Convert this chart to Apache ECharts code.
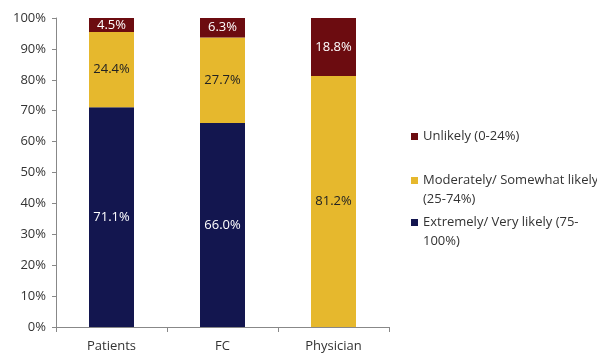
<!DOCTYPE html>
<html>
<head>
<meta charset="utf-8">
<script src="https://cdn.jsdelivr.net/npm/echarts@6/dist/echarts.min.js"></script>
<style>
  html, body { margin: 0; padding: 0; background: #fff; }
  #chart { width: 597px; height: 354px; }
</style>
</head>
<body>
<div id="chart"></div>
<script>
// categories and series (percent)
const groups = ["Patients", "FC", "Physician"];
const extremely = [71.1, 66.0, 0];
const moderately = [24.4, 27.7, 81.2];
const unlikely = [4.5, 6.3, 18.8];
const yTicks = [0, 10, 20, 30, 40, 50, 60, 70, 80, 90, 100];

const names = [
  "Extremely/ Very likely (75-\n100%)",
  "Moderately/ Somewhat likely\n(25-74%)",
  "Unlikely (0-24%)"
];

const font = "Open Sans";
const lineH = 19;

function makeSeries(name, data, color, labelColor) {
  return {
    name: name,
    type: "bar",
    stack: "total",
    barWidth: 45,
    data: data,
    itemStyle: { color: color },
    label: {
      show: true,
      position: "inside",
      color: labelColor,
      fontFamily: font,
      fontSize: 13,
      formatter: function (p) {
        return p.value > 0 ? p.value.toFixed(1) + "%" : "";
      }
    }
  };
}

// one legend box per item; two-line items get a tall icon box with the
// square at its top so it lines up with the first line of text
function legendAt(name, top, twoLines) {
  return {
    top: top,
    left: 411,
    padding: 0,
    orient: "vertical",
    selectedMode: false,
    itemWidth: 7,
    itemHeight: twoLines ? 7 + lineH : 7,
    itemGap: 4,
    icon: twoLines ? "path://M0,0L7,0L7,7L0,7Z M0," + (7 + lineH) : "rect",
    textStyle: {
      fontFamily: font,
      fontSize: 13,
      color: "#333",
      lineHeight: lineH
    },
    data: [name]
  };
}

const chart = echarts.init(document.getElementById("chart"));
chart.setOption({
  animation: false,
  grid: { left: 56, right: 208, top: 18, bottom: 27 },
  legend: [
    legendAt(names[2], 127, false),
    legendAt(names[1], 171, true),
    legendAt(names[0], 213, true)
  ],
  xAxis: {
    type: "category",
    data: groups,
    axisLine: { lineStyle: { color: "#888" } },
    axisTick: { show: true, length: 5, lineStyle: { color: "#888" } },
    axisLabel: { color: "#333", fontFamily: font, fontSize: 13, margin: 13 }
  },
  yAxis: {
    type: "value",
    min: yTicks[0],
    max: yTicks[yTicks.length - 1],
    interval: 10,
    splitLine: { show: false },
    axisLine: { show: true, lineStyle: { color: "#888" } },
    axisTick: { show: true, length: 4, lineStyle: { color: "#888" } },
    axisLabel: {
      color: "#333",
      fontFamily: font,
      fontSize: 13,
      margin: 10,
      formatter: "{value}%"
    }
  },
  series: [
    makeSeries(names[0], extremely, "#13164f", "#fff"),
    makeSeries(names[1], moderately, "#e6b82d", "#222"),
    makeSeries(names[2], unlikely, "#6c0c10", "#fff")
  ]
});
</script>
</body>
</html>
